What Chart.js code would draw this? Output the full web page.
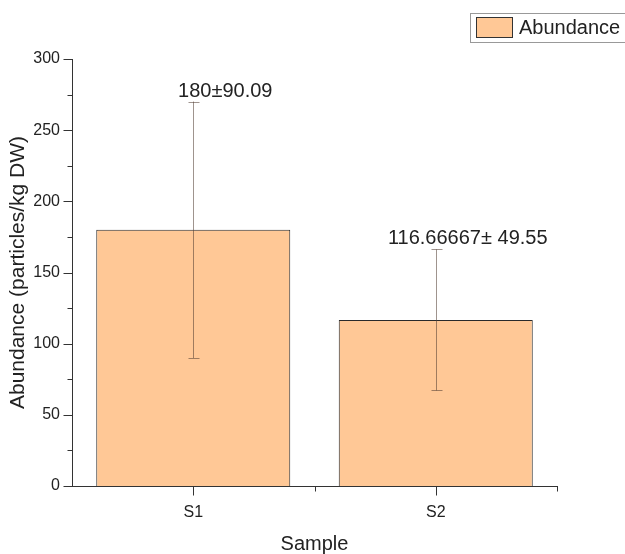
<!DOCTYPE html>
<html>
<head>
<meta charset="utf-8">
<script src="https://cdn.jsdelivr.net/npm/chart.js@4"></script>
<style>
    html, body { margin: 0; padding: 0; background: #fff; }
    #wrap { width: 625px; height: 554px; position: relative; }
</style>
</head>
<body>
<div id="wrap"><canvas id="abundanceChart"></canvas></div>
<script>
// Data
const samples = ['S1', 'S2'];
const abundance = [180, 116.66667];
const abundanceSd = [90.09, 49.55];
const valueLabels = ['180±90.09', '116.66667± 49.55'];
const yTicks = [0, 50, 100, 150, 200, 250, 300];

const FONT = "'Liberation Sans', Arial, sans-serif";
const INK = '#222';

// Error bars, value labels, minor/major ticks, legend box
const extrasPlugin = {
    id: 'extras',
    afterDatasetsDraw(chart) {
        const ctx = chart.ctx;
        const x = chart.scales.x;
        const y = chart.scales.y;
        const meta = chart.getDatasetMeta(0);

        ctx.save();
        // error bars
        ctx.strokeStyle = 'rgba(80, 60, 50, 0.55)';
        ctx.lineWidth = 1;
        meta.data.forEach((bar, i) => {
            const cx = Math.round(bar.x) + 0.5;
            const top = y.getPixelForValue(abundance[i] + abundanceSd[i]);
            const bot = y.getPixelForValue(abundance[i] - abundanceSd[i]);
            ctx.beginPath();
            ctx.moveTo(cx, top);
            ctx.lineTo(cx, bot);
            ctx.moveTo(cx - 5, Math.round(top) + 0.5);
            ctx.lineTo(cx + 6, Math.round(top) + 0.5);
            ctx.moveTo(cx - 5, Math.round(bot) + 0.5);
            ctx.lineTo(cx + 6, Math.round(bot) + 0.5);
            ctx.stroke();

            // value label above the error bar
            ctx.fillStyle = INK;
            ctx.font = '20px ' + FONT;
            ctx.textAlign = 'center';
            ctx.textBaseline = 'alphabetic';
            ctx.fillText(valueLabels[i], bar.x + 32, top - 5);
        });

        // y ticks: major outward, minor in between
        ctx.strokeStyle = '#333';
        const axX = Math.round(y.right) + 0.5;
        for (let v = 0; v <= 300; v += 25) {
            const py = Math.round(y.getPixelForValue(v)) + 0.5;
            const len = v % 50 === 0 ? 9 : 5;
            ctx.beginPath();
            ctx.moveTo(axX - len, py);
            ctx.lineTo(axX, py);
            ctx.stroke();
        }
        // x ticks: categories and the middle between them
        const axY = Math.round(x.top) + 0.5;
        const c0 = x.getPixelForValue(0);
        const c1 = x.getPixelForValue(1);
        [[c0, 9], [c1, 9], [(c0 + c1) / 2, 5], [x.right, 5]].forEach(([px, len]) => {
            const rx = Math.round(px) + 0.5;
            ctx.beginPath();
            ctx.moveTo(rx, axY);
            ctx.lineTo(rx, axY + len);
            ctx.stroke();
        });

        // legend box in the top right corner
        const ds = chart.data.datasets[0];
        ctx.strokeStyle = '#999';
        ctx.lineWidth = 1;
        ctx.strokeRect(470.5, 13.5, 170, 29);
        ctx.fillStyle = ds.backgroundColor;
        ctx.fillRect(476, 17, 37, 21);
        ctx.strokeStyle = '#333';
        ctx.strokeRect(476.5, 17.5, 36, 20);
        ctx.fillStyle = INK;
        ctx.font = '20px ' + FONT;
        ctx.textAlign = 'left';
        ctx.textBaseline = 'middle';
        ctx.fillText(ds.label, 519, 28);
        ctx.restore();
    }
};

new Chart(document.getElementById('abundanceChart'), {
    type: 'bar',
    data: {
        labels: samples,
        datasets: [{
            label: 'Abundance',
            data: abundance,
            backgroundColor: '#FFC896',
            borderColor: '#2a2a2a',
            borderWidth: 1,
            categoryPercentage: 1,
            barPercentage: 0.8
        }]
    },
    options: {
        responsive: true,
        maintainAspectRatio: false,
        animation: false,
        layout: { padding: { left: 0, right: 68, top: 59, bottom: 0 } },
        plugins: {
            legend: { display: false },
            tooltip: { enabled: false }
        },
        scales: {
            x: {
                grid: { display: false, drawTicks: false },
                border: { display: true, color: '#333', width: 1 },
                ticks: { color: INK, font: { family: FONT, size: 16 }, padding: 17 },
                title: {
                    display: true,
                    text: 'Sample',
                    color: INK,
                    font: { family: FONT, size: 20, lineHeight: 1.0 },
                    padding: { top: 0, bottom: 0 }
                },
                afterFit(scale) { scale.height = 68; }
            },
            y: {
                min: 0,
                max: 300,
                afterBuildTicks(scale) { scale.ticks = yTicks.map(v => ({ value: v })); },
                grid: { display: false, drawTicks: false },
                border: { display: true, color: '#333', width: 1 },
                ticks: { color: INK, font: { family: FONT, size: 16 }, padding: 12 },
                title: {
                    display: true,
                    text: 'Abundance (particles/kg DW)',
                    color: INK,
                    font: { family: FONT, size: 21 },
                    padding: { top: 6, bottom: 0 }
                },
                afterFit(scale) { scale.width = 72; }
            }
        }
    },
    plugins: [extrasPlugin]
});
</script>
</body>
</html>
